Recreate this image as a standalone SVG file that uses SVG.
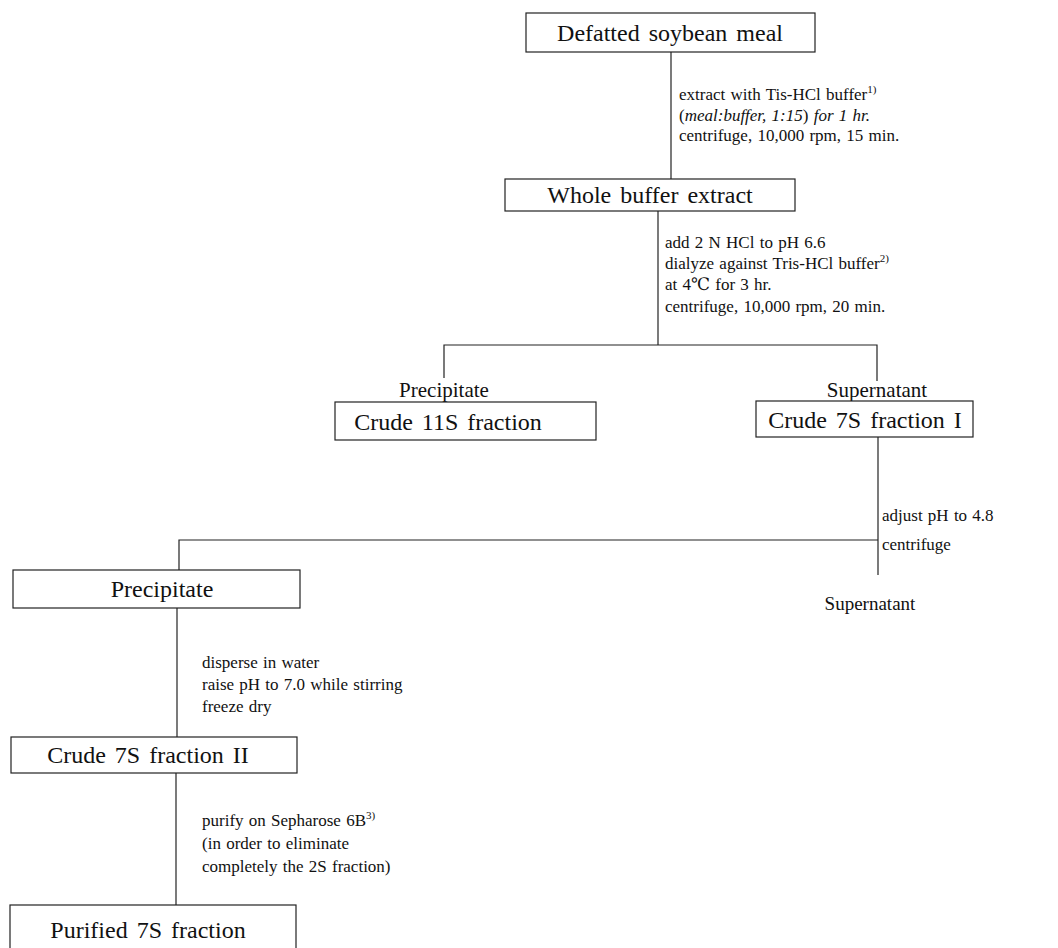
<svg xmlns="http://www.w3.org/2000/svg" width="1058" height="948" viewBox="0 0 1058 948">
<style>
.bg{fill:#fff}
.box{fill:#fff;stroke:#222;stroke-width:1.2}
.ln{fill:none;stroke:#222;stroke-width:1.2}
.nt{font-family:"Liberation Serif","DejaVu Serif",serif;font-size:24px;fill:#111;text-anchor:middle;word-spacing:3px}
.lb{font-family:"Liberation Serif","DejaVu Serif",serif;font-size:21px;fill:#111;text-anchor:middle}
.an{font-family:"Liberation Serif","DejaVu Serif",serif;font-size:17px;fill:#111;word-spacing:1px}
.sup{font-size:11px}
.it{font-style:italic}
</style>
<rect class="bg" x="0" y="0" width="1058" height="948"/>
<g id="connectors">
<path class="ln" d="M671 52 V179"/>
<path class="ln" d="M658 211 V345"/>
<path class="ln" d="M444 378 V345 H877 V381"/>
<path class="ln" d="M878 437 V575"/>
<path class="ln" d="M179 570 V540 H878"/>
<path class="ln" d="M177 608 V737"/>
<path class="ln" d="M176 773 V905"/>
</g>
<g id="n1">
<rect class="box" x="526" y="13" width="289" height="39"/>
<text class="nt" x="670" y="41">Defatted soybean meal</text>
</g>
<g id="a1">
<text class="an" x="679" y="100">extract with Tis-HCl buffer<tspan class="sup" dy="-7">1)</tspan></text>
<text class="an" x="679" y="121">(<tspan class="it">meal:buffer, 1:15</tspan>) <tspan class="it">for 1 hr.</tspan></text>
<text class="an" x="679" y="141">centrifuge, 10,000 rpm, 15 min.</text>
</g>
<g id="n2">
<rect class="box" x="505" y="179" width="290" height="32"/>
<text class="nt" x="650" y="203">Whole buffer extract</text>
</g>
<g id="a2">
<text class="an" x="665" y="248">add 2 N HCl to pH 6.6</text>
<text class="an" x="665" y="269">dialyze against Tris-HCl buffer<tspan class="sup" dy="-7">2)</tspan></text>
<text class="an" x="665" y="290">at 4℃ for 3 hr.</text>
<text class="an" x="665" y="312">centrifuge, 10,000 rpm, 20 min.</text>
</g>
<g id="n3">
<text class="lb" x="444" y="397">Precipitate</text>
<rect class="box" x="335" y="402" width="261" height="38"/>
<text class="nt" x="448" y="430">Crude 11S fraction</text>
</g>
<g id="n4">
<text class="lb" x="877" y="397">Supernatant</text>
<rect class="box" x="756" y="401" width="217" height="36"/>
<text class="nt" x="865" y="428">Crude 7S fraction I</text>
</g>
<g id="a3">
<text class="an" x="882" y="521">adjust pH to 4.8</text>
<text class="an" x="882" y="550">centrifuge</text>
</g>
<g id="n5">
<text class="an" x="870" y="610" text-anchor="middle" style="font-size:19px">Supernatant</text>
</g>
<g id="n6">
<rect class="box" x="13" y="570" width="287" height="38"/>
<text class="nt" x="162" y="597">Precipitate</text>
</g>
<g id="a4">
<text class="an" x="202" y="668">disperse in water</text>
<text class="an" x="202" y="690">raise pH to 7.0 while stirring</text>
<text class="an" x="202" y="712">freeze dry</text>
</g>
<g id="n7">
<rect class="box" x="11" y="737" width="286" height="36"/>
<text class="nt" x="148" y="763">Crude 7S fraction II</text>
</g>
<g id="a5">
<text class="an" x="202" y="826">purify on Sepharose 6B<tspan class="sup" dy="-7">3)</tspan></text>
<text class="an" x="202" y="849">(in order to eliminate</text>
<text class="an" x="202" y="872">completely the 2S fraction)</text>
</g>
<g id="n8">
<rect class="box" x="10" y="905" width="286" height="50"/>
<text class="nt" x="148" y="938">Purified 7S fraction</text>
</g>
</svg>
